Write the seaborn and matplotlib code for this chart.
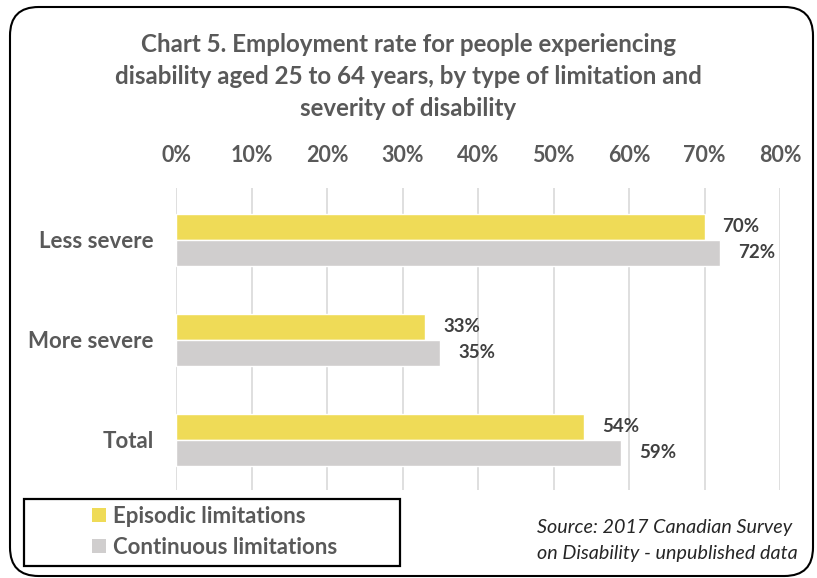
import matplotlib
matplotlib.use("Agg")
import matplotlib.pyplot as plt
import seaborn as sns
import pandas as pd
from matplotlib.patches import FancyBboxPatch, Rectangle, Patch
from matplotlib.ticker import PercentFormatter, MultipleLocator

categories = ["Less severe", "More severe", "Total"]
series_names = ["Episodic limitations", "Continuous limitations"]
episodic = [70, 33, 54]
continuous = [72, 35, 59]
colors = ["#EFDB57", "#D0CECE"]
title_lines = ["Chart 5. Employment rate for people experiencing",
               "disability aged 25 to 64 years, by type of limitation and",
               "severity of disability"]
source_lines = ["Source: 2017 Canadian Survey", "on Disability - unpublished data"]

df = pd.DataFrame({
    "category": categories * 2,
    "series": [series_names[0]] * 3 + [series_names[1]] * 3,
    "value": episodic + continuous,
})

sns.set_theme(style="white")
plt.rcParams["font.family"] = ["Lato", "DejaVu Sans"]

W, H = 817, 578
fig = plt.figure(figsize=(W / 100, H / 100), dpi=100)
ax = fig.add_axes([176 / W, (H - 490) / H, (780 - 176) / W, (490 - 188) / H])

sns.barplot(data=df, x="value", y="category", hue="series", orient="h",
            palette=colors, width=0.52, ax=ax, legend=False, saturation=1)

ax.set_xlim(0, 80)
ax.set_ylim(2.5, -0.52)
ax.xaxis.set_major_locator(MultipleLocator(10))
ax.xaxis.set_major_formatter(PercentFormatter(decimals=0))
ax.xaxis.tick_top()
ax.grid(axis="x", color="#D9D9D9", linewidth=1.2)
ax.set_axisbelow(True)
for s in ax.spines.values():
    s.set_visible(False)
ax.set_xlabel("")
ax.set_ylabel("")
ax.tick_params(axis="x", length=0, pad=16, labelsize=15.5, labelcolor="#595959")
ax.tick_params(axis="y", length=0, pad=16, labelsize=16, labelcolor="#595959")
for lab in ax.get_xticklabels() + ax.get_yticklabels():
    lab.set_fontweight("bold")

for cont in ax.containers:
    ax.bar_label(cont, labels=[f"{v:.0f}%" for v in cont.datavalues],
                 padding=13, fontsize=13.5, fontweight="bold", color="#404040")

for y, line in zip([45, 76, 108], title_lines):
    fig.text(0.5, 1 - y / H, line, ha="center", va="center",
             fontsize=17.4, fontweight="bold", color="#595959")

for y, line in zip([527, 553], source_lines):
    fig.text(537 / W, 1 - y / H, line, ha="left", va="center",
             fontsize=14.2, style="italic", color="#262626")

# legend box
fig.patches.append(Rectangle((24 / W, 1 - 566 / H), 376 / W, 67 / H, transform=fig.transFigure,
                             fill=False, edgecolor="black", linewidth=1.6))
handles = [Patch(facecolor=c, edgecolor="none") for c in colors]
leg = fig.legend(handles, series_names, loc="center left",
                 bbox_to_anchor=(92 / W, 1 - 532 / H), frameon=False,
                 prop={"family": ["Lato", "DejaVu Sans"], "weight": "bold", "size": 16},
                 handlelength=0.63, handleheight=0.63, handletextpad=0.3,
                 labelspacing=0.45, borderpad=0, borderaxespad=0)
for t in leg.get_texts():
    t.set_color("#595959")

# outer rounded frame
fig.patches.append(FancyBboxPatch((10 / W, 2 / H), 803 / W, 569 / H,
                                  boxstyle="round,pad=0,rounding_size=0.035",
                                  transform=fig.transFigure, fill=False,
                                  edgecolor="black", linewidth=1.5, mutation_aspect=W / H))

fig.savefig("out.png", dpi=100)
